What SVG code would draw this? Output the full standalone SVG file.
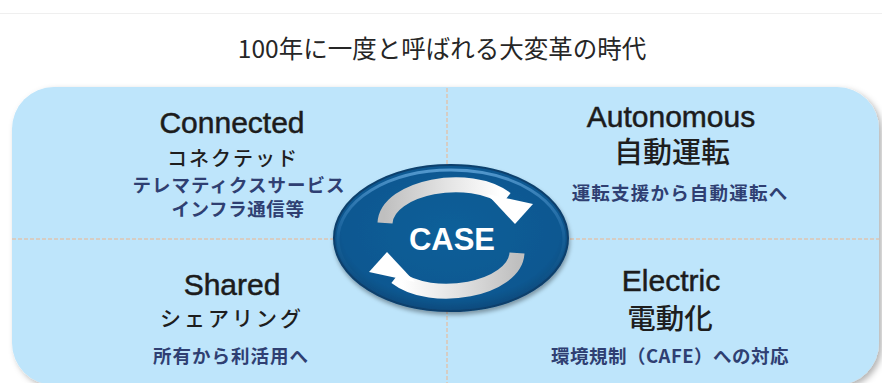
<svg xmlns="http://www.w3.org/2000/svg" width="882" height="383" viewBox="0 0 882 383">
<defs>
<style>
.en{font-family:"Liberation Sans",Arial,sans-serif;font-size:30px;fill:#1c1c1c;stroke:#1c1c1c;stroke-width:0.5px;text-anchor:middle}
.jb{font-family:"Noto Sans CJK JP",sans-serif;fill:#1e1e1e;text-anchor:middle;font-weight:500}
.js{font-family:"Noto Sans CJK JP",sans-serif;fill:#2f3f72;text-anchor:middle;font-weight:700;font-size:18.5px}
.dash{stroke:#d6cdc4;stroke-width:2;stroke-dasharray:4 2;fill:none}
</style>
<filter id="sh" x="-5%" y="-5%" width="110%" height="115%">
<feDropShadow dx="3" dy="3" stdDeviation="3" flood-color="#000" flood-opacity="0.3"/>
</filter>
<filter id="esh" x="-10%" y="-10%" width="120%" height="125%">
<feDropShadow dx="1" dy="3" stdDeviation="2" flood-color="#000" flood-opacity="0.35"/>
</filter>
<radialGradient id="eg" cx="0.5" cy="0.45" r="0.55">
<stop offset="0" stop-color="#0d5f99"/>
<stop offset="0.85" stop-color="#0b5891"/>
<stop offset="1" stop-color="#094a7c"/>
</radialGradient>
<linearGradient id="rim" x1="0" y1="0" x2="0" y2="1">
<stop offset="0" stop-color="#5a9fd4" stop-opacity="0.9"/>
<stop offset="0.5" stop-color="#3a82bd" stop-opacity="0.2"/>
<stop offset="1" stop-color="#0a4a7c" stop-opacity="0"/>
</linearGradient>
<linearGradient id="ag" gradientUnits="userSpaceOnUse" x1="384" y1="0" x2="500" y2="0">
<stop offset="0" stop-color="#bfbfbf"/>
<stop offset="0.55" stop-color="#e4e4e4"/>
<stop offset="1" stop-color="#ffffff"/>
</linearGradient>
</defs>
<rect x="0" y="0" width="882" height="383" fill="#ffffff"/>
<line x1="0" y1="13.5" x2="882" y2="13.5" stroke="#efefef" stroke-width="1"/>
<g id="title">
<text x="442" y="58" font-family="Noto Sans CJK JP, sans-serif" font-size="24.5" fill="#262626" text-anchor="middle">100年に一度と呼ばれる大変革の時代</text>
</g>
<g id="panel">
<rect x="12" y="87" width="867" height="298" rx="42" ry="42" fill="#bee5fb" filter="url(#sh)"/>
</g>
<g id="connectors">
<line class="dash" x1="447" y1="88" x2="447" y2="385"/>
<line class="dash" x1="12" y1="239" x2="879" y2="239"/>
</g>
<g id="connected">
<text class="en" x="232" y="133">Connected</text>
<text class="jb" x="233" y="166" font-size="20" letter-spacing="2">コネクテッド</text>
<text class="js" x="239" y="192" letter-spacing="1">テレマティクスサービス</text>
<text class="js" x="238" y="216" letter-spacing="0.6">インフラ通信等</text>
</g>
<g id="autonomous">
<text class="en" x="671" y="127">Autonomous</text>
<text class="jb" x="672" y="163" font-size="29">自動運転</text>
<text class="js" x="680" y="200" letter-spacing="1.2">運転支援から自動運転へ</text>
</g>
<g id="shared">
<text class="en" x="232" y="295">Shared</text>
<text class="jb" x="232" y="326" font-size="21" letter-spacing="3">シェアリング</text>
<text class="js" x="231" y="363" letter-spacing="1">所有から利活用へ</text>
</g>
<g id="electric">
<text class="en" x="671" y="291">Electric</text>
<text class="jb" x="670" y="329" font-size="28.5">電動化</text>
<text class="js" x="670" y="363" letter-spacing="0.5">環境規制（CAFE）への対応</text>
</g>
<g id="case">
<ellipse cx="451" cy="238" rx="117" ry="73" fill="url(#eg)" stroke="#0a3f6c" stroke-width="2" filter="url(#esh)"/>
<ellipse cx="451" cy="239" rx="113" ry="69" fill="none" stroke="url(#rim)" stroke-width="3"/>
<g id="arrow-top">
<path d="M385 223 C387 187 470 171 506 199" fill="none" stroke="url(#ag)" stroke-width="15"/>
<polygon points="487,194 533,204 515,224" fill="#ffffff"/>
</g>
<g id="arrow-bottom" transform="rotate(180 451 238)">
<path d="M385 223 C387 187 470 171 506 199" fill="none" stroke="url(#ag)" stroke-width="15"/>
<polygon points="487,194 533,204 515,224" fill="#ffffff"/>
</g>
<text x="452" y="250" font-family="Liberation Sans, Arial, sans-serif" font-size="31" font-weight="bold" fill="#ffffff" text-anchor="middle">CASE</text>
</g>
</svg>
